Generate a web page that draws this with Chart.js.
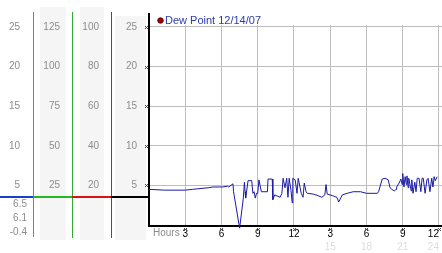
<!DOCTYPE html>
<html>
<head>
<meta charset="utf-8">
<script src="https://cdn.jsdelivr.net/npm/chart.js@4"></script>
<style>
  html, body { margin: 0; padding: 0; background: #fff; }
  canvas { display: block; }
</style>
</head>
<body>
<canvas id="chart" width="442" height="253"></canvas>
<script>
// readings over the day (hours since midnight)
const hours = [
  0, 1.3, 3.0, 3.6, 4.9, 5.3, 6.1, 6.5, 6.6, 6.95,
  7.0, 7.5, 7.8, 7.9, 7.95, 8.0, 8.2, 8.35, 8.5, 8.6,
  8.7, 8.8, 8.9, 9.0, 9.1, 9.3, 9.6, 9.8, 9.85, 10.2,
  10.25, 10.4, 10.85, 11.0, 11.1, 11.25, 11.4, 11.5, 11.6, 11.75,
  11.85, 11.9, 12.1, 12.25, 12.35, 12.6, 12.75, 12.85, 13.0, 13.1,
  13.6, 14.0, 14.3, 14.55, 14.65, 14.75, 15.2, 15.55, 15.7, 16.0,
  16.4, 16.9, 17.5, 18.0, 18.9, 19.0, 19.3, 19.55, 19.8, 19.95,
  20.1, 20.3, 20.45, 20.5, 20.7, 20.85, 20.95, 21.0, 21.1, 21.2,
  21.3, 21.35, 21.45, 21.5, 21.7, 21.75, 21.85, 22.0, 22.1, 22.2,
  22.35, 22.5, 22.6, 22.7, 22.85, 23.0, 23.1, 23.25, 23.4, 23.5,
  23.6, 23.7, 23.85
]
const dewPoint = [
  4.5, 4.4, 4.4, 4.5, 4.7, 4.8, 4.8, 4.9, 4.8, 5.2,
  4.2, -0.4, 3.3, 5.4, 4.2, 3.4, 5.6, 5.6, 5.6, 4.0,
  4.2, 3.4, 4.0, 4.0, 5.7, 4.2, 4.2, 4.2, 5.8, 5.8,
  3.2, 3.8, 3.5, 4.0, 5.9, 4.7, 5.9, 3.5, 5.9, 4.4,
  2.8, 5.9, 5.7, 4.0, 5.9, 4.0, 3.5, 5.3, 4.2, 4.0,
  3.9, 3.7, 3.5, 3.8, 5.1, 3.9, 3.7, 3.5, 2.9, 3.8,
  4.0, 4.2, 4.2, 4.0, 4.0, 4.2, 5.8, 5.9, 5.7, 4.7,
  4.5, 4.3, 4.5, 4.8, 5.3, 5.8, 5.1, 6.5, 4.8, 6.1,
  5.1, 6.2, 4.7, 5.9, 4.3, 5.7, 4.0, 5.4, 4.2, 5.9,
  5.9, 4.2, 5.9, 5.9, 4.0, 5.7, 5.9, 4.2, 5.9, 4.8,
  6.1, 5.6, 6.1
]

const hourTicks = [0, 3, 6, 9, 12, 15, 18, 21, 24]
const hourLabels = ["", "3", "6", "9", "12", "3", "6", "9", "12"]
const hourLabels24 = ["", "", "", "", "", "15", "18", "21", "24"]
const tempTicks = [0, 5, 10, 15, 20, 25]
const scaleBTicks = [0, 25, 50, 75, 100, 125]
const scaleCTicks = [0, 20, 40, 60, 80, 100]
const dewTicks = [0, 5, 10, 15, 20, 25]
const statLabels = ["6.5", "6.1", "-0.4"]   // max, current, min
const seriesLabel = "Dew Point 12/14/07"

const font = { family: "'Liberation Sans', Arial, sans-serif", size: 10 }
const labelGray = "#8c8c8c"

function sideAxis(ticks, width, weight, padding) {
  return {
    position: "left",
    weight,
    min: 0,
    max: ticks[ticks.length - 1] * 1.01,
    afterBuildTicks: s => { s.ticks = ticks.map(v => ({ value: v })) },
    afterFit: s => { s.width = width; s.paddingTop = 0; s.paddingBottom = 0 },
    grid: { display: false, drawTicks: false },
    border: { display: false },
    ticks: { padding, color: labelGray, font, callback: v => (v === 0 ? "" : v) },
  }
}

const panelPlugin = {
  id: "panel",
  beforeDraw(chart) {
    const ctx = chart.ctx
    const b = chart.scales.yB, c = chart.scales.yC, y = chart.scales.y
    ctx.save()
    ctx.fillStyle = "#fff"
    ctx.fillRect(0, 0, chart.width, chart.height)
    ctx.fillStyle = "#f5f5f5"
    ctx.fillRect(b.left + 7, 7, 26, 233)
    ctx.fillRect(c.left + 8, 7, 24, 233)
    ctx.fillRect(y.left + 4, 16, 31, 224)
    ctx.restore()
  },
  beforeDatasetsDraw(chart) {
    const ctx = chart.ctx, area = chart.chartArea
    const a = chart.scales.yA, b = chart.scales.yB, c = chart.scales.yC
    const sy = chart.scales.y, sx = chart.scales.x
    ctx.save()
    const line = (x0, y0, x1, y1, color, w) => {
      ctx.beginPath()
      ctx.strokeStyle = color
      ctx.lineWidth = w
      ctx.moveTo(x0, y0)
      ctx.lineTo(x1, y1)
      ctx.stroke()
    }
    line(a.right + 0.5, 12, a.right + 0.5, 237, "#3399cc", 1)
    line(b.right + 0.5, 12, b.right + 0.5, 238, "#33aa33", 1)
    line(c.right + 0.5, 12, c.right + 0.5, 238, "#bb2222", 1)

    const sepY = 197
    line(0, sepY, a.right, sepY, "#1a3fd0", 2)
    line(a.right, sepY, b.right, sepY, "#22bb22", 2)
    line(b.right, sepY, c.right, sepY, "#dd1111", 2)
    line(c.right, sepY, area.left, sepY, "#000", 2)

    line(area.left, 13, area.left, area.bottom + 2, "#000", 2)
    line(area.left, area.bottom + 1, area.right, area.bottom + 1, "#000", 2)

    // tiny cross tick marks
    ctx.beginPath()
    ctx.strokeStyle = "#444"
    ctx.lineWidth = 1
    const cross = (x, y) => {
      ctx.moveTo(x - 1.5, y - 1.5); ctx.lineTo(x + 1.5, y + 1.5)
      ctx.moveTo(x + 1.5, y - 1.5); ctx.lineTo(x - 1.5, y + 1.5)
    }
    dewTicks.filter(v => v > 0).forEach(v => cross(area.left - 2.5, Math.round(sy.getPixelForValue(v)) + 0.5))
    hourTicks.filter(v => v > 0).forEach(v => cross(Math.round(sx.getPixelForValue(v)) + 0.5, area.bottom + 4.5))
    ctx.stroke()
    ctx.restore()
  },
  afterDraw(chart) {
    const ctx = chart.ctx, area = chart.chartArea
    const a = chart.scales.yA
    ctx.save()
    ctx.font = "10px 'Liberation Sans', Arial, sans-serif"
    ctx.fillStyle = labelGray
    ctx.textBaseline = "alphabetic"
    ctx.textAlign = "left"
    ctx.fillText("Hours", area.left + 4, 235.5)

    ctx.textAlign = "right"
    ctx.textBaseline = "middle"
    statLabels.forEach((t, i) => ctx.fillText(t, a.left + 27, 204 + i * 14))

    // legend
    ctx.beginPath()
    ctx.arc(160.5, 20.5, 2.8, 0, Math.PI * 2)
    ctx.fillStyle = "#a00000"
    ctx.fill()
    ctx.strokeStyle = "#500000"
    ctx.lineWidth = 0.8
    ctx.stroke()
    ctx.font = "11px 'Liberation Sans', Arial, sans-serif"
    ctx.fillStyle = "#2a3caa"
    ctx.textAlign = "left"
    ctx.fillText(chart.data.datasets[0].label, 165, 21)
    ctx.restore()
  },
}

new Chart(document.getElementById("chart"), {
  type: "line",
  data: {
    datasets: [
      {
        label: seriesLabel,
        data: hours.map((h, i) => ({ x: h, y: dewPoint[i] })),
        borderColor: "#1a1aa6",
        borderWidth: 1,
        pointRadius: 0,
        tension: 0,
        fill: false,
        clip: false,
        xAxisID: "x",
        yAxisID: "y",
      },
    ],
  },
  options: {
    responsive: false,
    animation: false,
    devicePixelRatio: 1,
    layout: { padding: { top: 25, left: 0, right: 0, bottom: 0 } },
    plugins: { legend: { display: false }, tooltip: { enabled: false } },
    scales: {
      x: {
        type: "linear",
        position: "bottom",
        weight: 0,
        min: 0,
        max: 24.25,
        afterBuildTicks: s => { s.ticks = hourTicks.map(v => ({ value: v })) },
        afterFit: s => { s.height = 15; s.paddingLeft = 0; s.paddingRight = 0 },
        grid: { color: "#bdbdbd", drawTicks: false },
        border: { display: false },
        ticks: {
          autoSkip: false, maxRotation: 0, padding: 3, color: "#000", font, align: "inner",
          callback: (v, i) => hourLabels[i],
        },
      },
      x2: {
        type: "linear",
        position: "bottom",
        weight: 1,
        min: 0,
        max: 24.25,
        afterBuildTicks: s => { s.ticks = hourTicks.map(v => ({ value: v })) },
        afterFit: s => { s.height = 13; s.paddingLeft = 0; s.paddingRight = 0 },
        grid: { display: false, drawTicks: false },
        border: { display: false },
        ticks: {
          autoSkip: false, maxRotation: 0, padding: 1, color: "#dcdcdc", font, align: "inner",
          callback: (v, i) => hourLabels24[i],
        },
      },
      yA: sideAxis(tempTicks, 33, 3, 13),
      yB: sideAxis(scaleBTicks, 39, 2, 12),
      yC: sideAxis(scaleCTicks, 39, 1, 12),
      y: {
        position: "left",
        weight: 0,
        min: 0,
        max: 25.25,
        afterBuildTicks: s => { s.ticks = dewTicks.map(v => ({ value: v })) },
        afterFit: s => { s.width = 38; s.paddingTop = 0; s.paddingBottom = 0 },
        grid: { color: "#bdbdbd", drawTicks: false },
        border: { display: false },
        ticks: { padding: 12, color: labelGray, font, callback: v => (v === 0 ? "" : v) },
      },
    },
  },
  plugins: [panelPlugin],
})
</script>
</body>
</html>
